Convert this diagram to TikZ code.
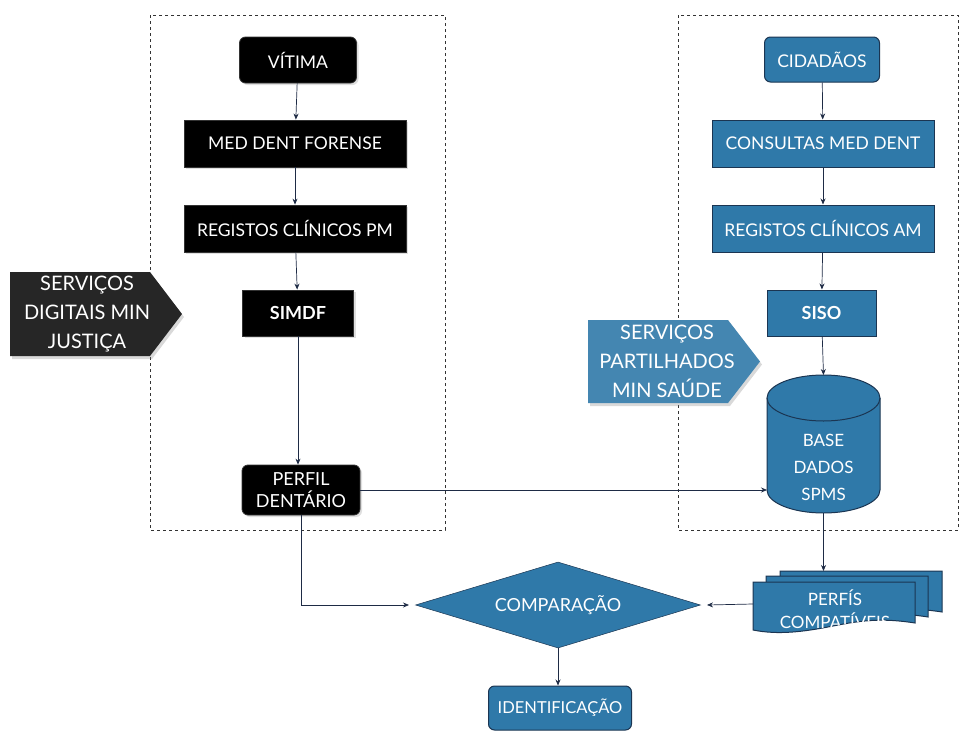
\documentclass[tikz,border=0pt]{standalone}
\usepackage{fontspec}
\setmainfont{Lato}
\usetikzlibrary{shapes.geometric,arrows.meta,shadows}
\definecolor{navy}{HTML}{1E2B45}
\definecolor{blu}{HTML}{2F79A9}
\definecolor{bluedge}{HTML}{1B3552}
\tikzset{
  lbl/.style={font=\fontsize{17.5}{21}\selectfont, text=white, align=center},
  blk/.style={lbl, fill=black, draw=black!80, line width=0.8pt, inner sep=2pt, drop shadow={opacity=0.25, shadow xshift=2pt, shadow yshift=-2pt}},
  blkr/.style={blk, rounded corners=6pt},
  bbox/.style={lbl, fill=blu, draw=bluedge, line width=1pt, inner sep=2pt},
  bboxr/.style={bbox, rounded corners=6pt},
  conn/.style={draw=navy, line width=0.7pt, -{Stealth[length=6pt,width=5pt]}},
  frame/.style={draw=black!80, dashed, line width=0.7pt},
  sigtext/.style={lbl, font=\fontsize{20}{29}\selectfont}
}
\newcommand{\docpath}[2]{(#1,#2) -- (#1+162,#2) -- (#1+162,#2+41)
    .. controls (#1+130,#2+36) and (#1+110,#2+38) .. (#1+80,#2+44)
    .. controls (#1+50,#2+50) and (#1+25,#2+53) .. (#1,#2+48) -- cycle}
\begin{document}
\begin{tikzpicture}[x=1pt,y=-1pt]
\useasboundingbox (0,0) rectangle (959,731);
% frames
\draw[frame] (150,15) rectangle (445,530);
\draw[frame] (678,15) rectangle (958,530);

% left column
\node[blkr, minimum width=117pt, minimum height=46pt] (vit) at (298,60) {VÍTIMA};
\node[blk, minimum width=222pt, minimum height=47pt] (med) at (295,143.5) {MED DENT FORENSE};
\node[blk, minimum width=222pt, minimum height=47pt] (regpm) at (295,228.5) {REGISTOS CLÍNICOS  PM};
\node[blk, minimum width=111pt, minimum height=46pt, font=\fontsize{18}{21}\selectfont\bfseries] (simdf) at (298,313) {SIMDF};
\node[blkr, minimum width=118pt, minimum height=50pt, font=\fontsize{18}{22}\selectfont, inner sep=1pt] (perfil) at (301,490) {PERFIL\\DENTÁRIO};

% right column
\node[bboxr, minimum width=115pt, minimum height=45pt] (cid) at (822,59.5) {CIDADÃOS};
\node[bbox, minimum width=222pt, minimum height=47pt] (cons) at (823,143.5) {CONSULTAS MED DENT};
\node[bbox, minimum width=222pt, minimum height=47pt] (regam) at (823,228.5) {REGISTOS CLÍNICOS AM};
\node[bbox, minimum width=109pt, minimum height=46pt, font=\fontsize{18}{21}\selectfont\bfseries] (siso) at (821.5,313) {SISO};

% cylinder
\fill[blu] (767,398) -- (767,490) arc[start angle=180,end angle=0,x radius=56.5,y radius=23] -- (880,398) -- cycle;
\fill[blu] (823.5,398) ellipse[x radius=56.5,y radius=23];
\draw[bluedge, line width=1pt] (823.5,398) ellipse[x radius=56.5,y radius=23];
\draw[bluedge, line width=1pt] (767,398) -- (767,490) arc[start angle=180,end angle=0,x radius=56.5,y radius=23] -- (880,398);
\node[lbl, font=\fontsize{17}{27}\selectfont] (db) at (823.5,467) {BASE\\DADOS\\SPMS};
\coordinate (dbtop) at (823.5,375);
\coordinate (dbbot) at (823.5,513);
\coordinate (dbleft) at (767,490);

% multidocument
\draw[fill=blu, draw=bluedge, line width=1pt] \docpath{780}{571};
\draw[fill=blu, draw=bluedge, line width=1pt] \docpath{766}{576};
\draw[fill=blu, draw=bluedge, line width=1pt] \docpath{753}{582};
\begin{scope}
\clip \docpath{753}{582};
\node[lbl, font=\fontsize{17}{23}\selectfont] (perfis) at (835,609) {PERFÍS\\COMPATÍVEIS};
\end{scope}
\coordinate (perfisleft) at (753,604);
\coordinate (perfistop) at (823.5,571);

% diamond
\node[diamond, fill=blu, draw=bluedge, line width=0.5pt, minimum width=285pt, minimum height=86pt, inner sep=0pt, aspect=3.3] (comp) at (558,605) {};
\node[lbl, font=\fontsize{18}{21}\selectfont] at (558,605) {COMPARAÇÃO};
\coordinate (compleft) at (415,605);
\coordinate (compright) at (701,605);

\node[bboxr, minimum width=143pt, minimum height=44pt, font=\fontsize{16.5}{19}\selectfont] (ident) at (560,708) {IDENTIFICAÇÃO};

% signal arrows
\fill[black!85, drop shadow={opacity=0.3, shadow xshift=2pt, shadow yshift=-3pt}] (10,272) -- (150,272) -- (182,314) -- (150,356) -- (10,356) -- cycle;
\node[sigtext] (sdmj) at (87,314) {SERVIÇOS\\DIGITAIS MIN\\JUSTIÇA};
\fill[blu!90!white, drop shadow={opacity=0.3, shadow xshift=2pt, shadow yshift=-3pt}] (588,320) -- (728,320) -- (760,361.5) -- (728,403) -- (588,403) -- cycle;
\node[sigtext] (spms) at (667,361.5) {SERVIÇOS\\PARTILHADOS\\MIN SAÚDE};

% connectors
\draw[conn] (vit) -- (med);
\draw[conn] (med) -- (regpm);
\draw[conn] (regpm) -- (simdf);
\draw[conn] (simdf) -- (perfil.north -| simdf);
\draw[conn] (cid) -- (cons);
\draw[conn] (cons) -- (regam);
\draw[conn] (regam) -- (siso);
\draw[conn] (siso) -- (dbtop);
\draw[conn] (perfil.east) -- (dbleft);
\draw[conn] (dbbot) -- (perfistop);
\draw[conn] (perfil.south) |- ([xshift=-6pt]compleft);
\draw[conn] (perfisleft) -- ([xshift=6pt]compright);
\draw[conn] (comp.south) -- (ident.north -| comp.south);
\end{tikzpicture}
\end{document}
